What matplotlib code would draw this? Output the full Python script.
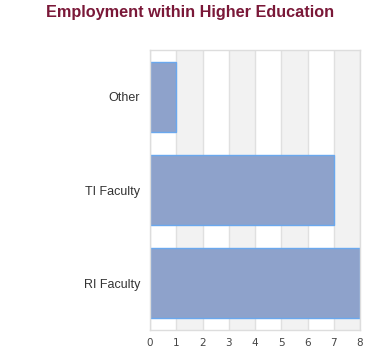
import matplotlib.pyplot as plt

categories = ['RI Faculty', 'TI Faculty', 'Other']
counts = [8, 7, 1]
xticks = [0, 1, 2, 3, 4, 5, 6, 7, 8]

fig = plt.figure(figsize=(3.8, 3.6), dpi=100)
ax = fig.add_axes([150 / 380, 1 - 330 / 360, 210 / 380, 280 / 360])

# alternating bands
for i in range(0, 8):
    if i % 2 == 1:
        ax.axvspan(i, i + 1, color='#f2f2f2', zorder=0, lw=0)
for x in xticks:
    ax.axvline(x, color='#e0e0e0', lw=1, zorder=1)

ax.barh(range(len(categories)), counts, height=0.75, color='#8ea2cb',
        edgecolor='#6aa8ee', linewidth=1, zorder=2)

ax.set_xlim(0, 8)
ax.set_ylim(-0.5, 2.5)
ax.set_xticks(xticks)
ax.set_xticklabels([str(x) for x in xticks], fontsize=7.5, color='#444444')
ax.set_yticks(range(len(categories)))
ax.set_yticklabels(categories, fontsize=9, color='#333333', family='Liberation Sans')
ax.tick_params(axis='both', length=0, pad=6)
ax.tick_params(axis='y', pad=7)
for s in ax.spines.values():
    s.set_color('#dddddd')
    s.set_linewidth(1)

fig.text(0.5, 1 - 13 / 360, 'Employment within Higher Education', ha='center', va='center',
         fontsize=11.7, fontweight='bold', color='#7a1838', family='Liberation Sans')

fig.savefig('out.png', dpi=100)
